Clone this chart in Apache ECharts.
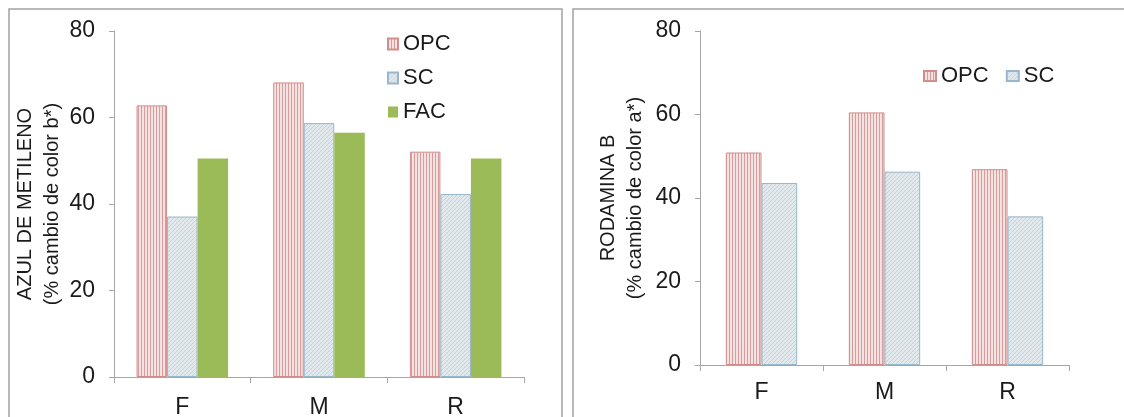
<!DOCTYPE html>
<html>
<head>
<meta charset="utf-8">
<script src="https://cdn.jsdelivr.net/npm/echarts@6/dist/echarts.min.js"></script>
<style>
html,body{margin:0;padding:0;background:#fff;}
#c{width:1124px;height:417px;}
</style>
</head>
<body>
<div id="c"></div>
<script>
// ---- data ----
const categories = ['F', 'M', 'R'];
const azulOPC = [62.8, 68.1, 52.1];
const azulSC  = [37.1, 58.7, 42.3];
const azulFAC = [50.5, 56.5, 50.5];
const rodOPC  = [50.9, 60.5, 46.9];
const rodSC   = [43.6, 46.3, 35.6];
const yMin = 0, yMax = 80, yStep = 20;
const azulName = 'AZUL DE METILENO\n(% cambio de color b*)';
const rodName = 'RODAMINA B\n(% cambio de color a*)';

// ---- patterns ----
function stripePattern() {
  const c = document.createElement('canvas');
  c.width = 3; c.height = 4;
  const g = c.getContext('2d');
  g.fillStyle = '#f4e2e2'; g.fillRect(0, 0, 3, 4);
  g.fillStyle = '#d59d9c'; g.fillRect(0, 0, 1, 4);
  return c;
}
function hatchPattern() {
  const c = document.createElement('canvas');
  c.width = 4; c.height = 4;
  const g = c.getContext('2d');
  g.fillStyle = '#e1e9ed'; g.fillRect(0, 0, 4, 4);
  g.fillStyle = '#c4d3da';
  for (let i = 0; i < 4; i++) g.fillRect(3 - i, i, 1, 1);
  return c;
}
const opcFill = { image: stripePattern(), repeat: 'repeat' };
const scFill = { image: hatchPattern(), repeat: 'repeat' };
const opcStyle = { color: opcFill, borderColor: '#d38c8a', borderWidth: 1 };
const scStyle = { color: scFill, borderColor: '#98b6cc', borderWidth: 1 };
const facStyle = { color: '#9bbb59' };

const axisGray = '#a6a6a6';
const txt = '#1a1a1a';
const font = 'Liberation Sans, Arial, sans-serif';

function yAxis(gridIndex, name, gap) {
  return {
    type: 'value', gridIndex, min: yMin, max: yMax, interval: yStep,
    name, nameLocation: 'middle', nameGap: gap, nameRotate: 90,
    nameTextStyle: { fontSize: 20, color: txt, fontFamily: font, lineHeight: 27 },
    axisLine: { show: true, lineStyle: { color: axisGray, width: 1 } },
    axisTick: { show: true, length: 5, lineStyle: { color: axisGray } },
    axisLabel: { fontSize: 23, color: txt, fontFamily: font, margin: 19 },
    splitLine: { show: false }
  };
}
function xAxis(gridIndex, margin) {
  return {
    type: 'category', gridIndex, data: categories,
    axisLine: { show: true, lineStyle: { color: axisGray, width: 1 } },
    axisTick: { show: true, length: 6, lineStyle: { color: axisGray } },
    axisLabel: { fontSize: 23, color: txt, fontFamily: font, margin },
  };
}

const chart = echarts.init(document.getElementById('c'), null, { renderer: 'canvas' });
chart.setOption({
  animation: false,
  backgroundColor: '#fff',
  grid: [
    { left: 114, top: 31, width: 410, height: 346, outerBoundsMode: 'none', containLabel: false },
    { left: 700, top: 31, width: 369, height: 334, outerBoundsMode: 'none', containLabel: false }
  ],
  xAxis: [xAxis(0, 19), xAxis(1, 16)],
  yAxis: [yAxis(0, azulName, 41), yAxis(1, rodName, 51)],
  legend: [
    {
      data: ['OPC', 'SC', 'FAC'], orient: 'vertical', left: 382, top: 28,
      itemWidth: 10, itemHeight: 11, itemGap: 12, icon: 'rect',
      textStyle: { fontSize: 22, color: txt, fontFamily: font }
    },
    {
      data: ['OPC ', 'SC '], orient: 'horizontal', left: 918, top: 60,
      itemWidth: 12, itemHeight: 10, itemGap: 11, icon: 'rect',
      textStyle: { fontSize: 22, color: txt, fontFamily: font }
    }
  ],
  series: [
    { name: 'OPC', type: 'bar', xAxisIndex: 0, yAxisIndex: 0, data: azulOPC, itemStyle: opcStyle, barGap: '0%', barCategoryGap: '33%' },
    { name: 'SC', type: 'bar', xAxisIndex: 0, yAxisIndex: 0, data: azulSC, itemStyle: scStyle },
    { name: 'FAC', type: 'bar', xAxisIndex: 0, yAxisIndex: 0, data: azulFAC, itemStyle: facStyle },
    { name: 'OPC ', type: 'bar', xAxisIndex: 1, yAxisIndex: 1, data: rodOPC, itemStyle: opcStyle, barGap: '0%', barCategoryGap: '42%' },
    { name: 'SC ', type: 'bar', xAxisIndex: 1, yAxisIndex: 1, data: rodSC, itemStyle: scStyle }
  ],
  graphic: [
    { type: 'rect', shape: { x: 9, y: 9, width: 553, height: 420 }, style: { fill: 'none', stroke: '#a3a3a3', lineWidth: 1.5 }, z: -1 },
    { type: 'rect', shape: { x: 573, y: 9, width: 560, height: 420 }, style: { fill: 'none', stroke: '#a3a3a3', lineWidth: 1.5 }, z: -1 }
  ]
});
</script>
</body>
</html>
